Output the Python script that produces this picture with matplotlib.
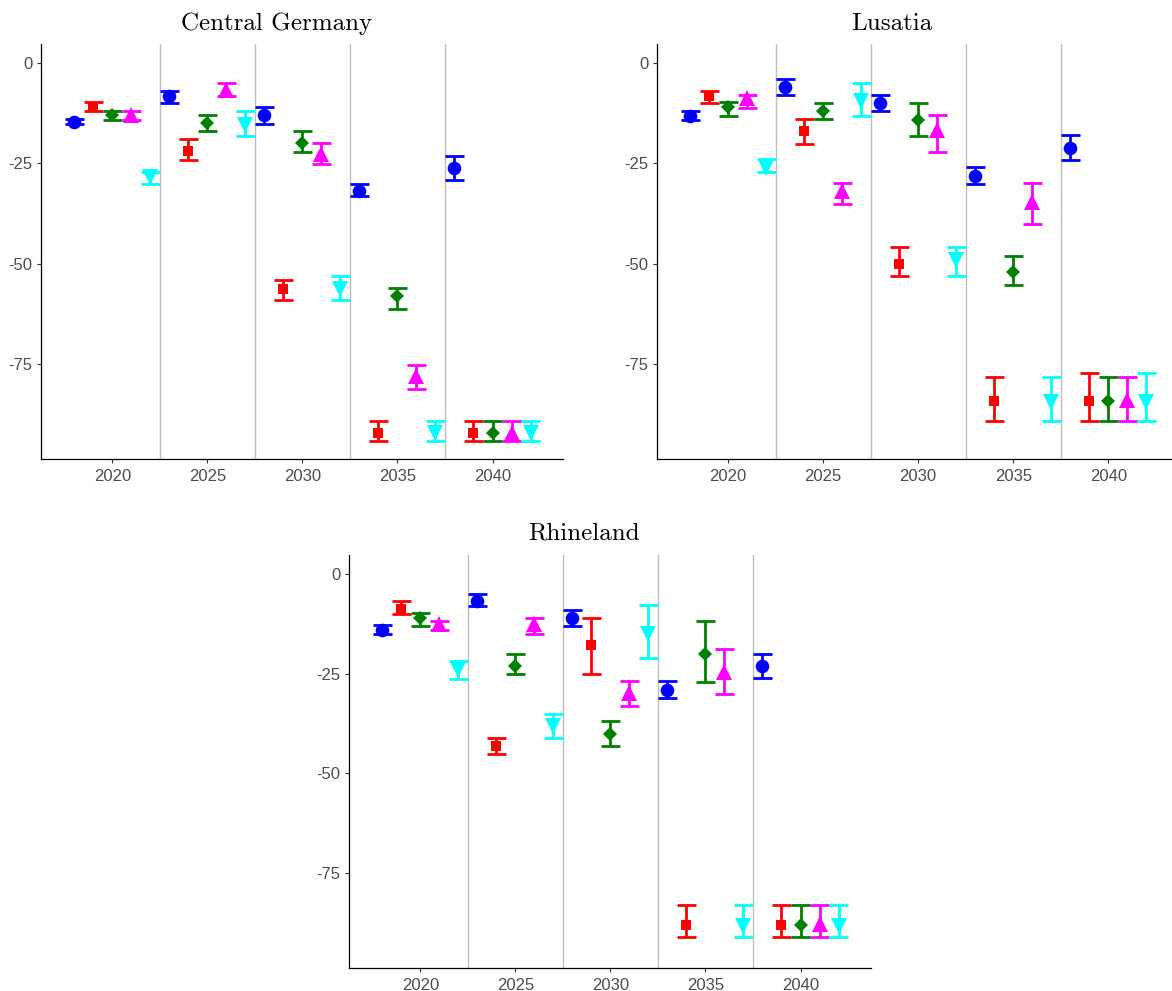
import matplotlib
matplotlib.use("Agg")
import matplotlib.pyplot as plt

# Projection years: five scenarios plotted side by side around each milestone year
milestones = [2020, 2025, 2030, 2035, 2040]
offsets = [-2, -1, 0, 1, 2]
series_colors = ["#0000FF", "#FF0000", "#008000", "#FF00FF", "#00FFFF"]
series_markers = ["o", "s", "D", "^", "v"]
series_sizes = [9.8, 7.6, 7.0, 11.0, 11.0]

# Values in plotting order (2018 ... 2042): point estimate, upper and lower bound
cg_mean = [-14.8, -11.1, -13.1, -12.9, -28.5, -8.2, -21.9, -15.0, -6.7, -15.4,
           -13.1, -56.25, -20.0, -22.75, -56.25, -31.9, -92.25, -58.2, -77.9, -92.1,
           -26.1, -92.25, -92.25, -92.1, -92.1]
cg_hi = [-14.0, -9.8, -11.9, -11.9, -27.1, -6.9, -19.0, -13.0, -5.0, -12.1,
         -11.0, -54.0, -16.9, -20.0, -53.1, -30.2, -89.2, -56.1, -75.2, -89.2,
         -23.1, -89.2, -89.2, -89.2, -89.2]
cg_lo = [-15.2, -12.1, -14.2, -14.2, -30.2, -10.0, -24.2, -17.1, -8.2, -18.2,
         -15.2, -59.2, -22.1, -25.2, -59.2, -33.2, -94.2, -61.25, -81.25, -94.2,
         -29.2, -94.2, -94.2, -94.2, -94.2]

lu_mean = [-13.2, -8.2, -11.1, -8.75, -26.1, -6.1, -16.9, -12.1, -31.9, -9.6,
           -10.0, -50.2, -14.2, -16.7, -49.2, -28.1, -84.2, -52.1, -34.75, -84.6,
           -21.1, -84.2, -84.2, -84.0, -84.6]
lu_hi = [-11.9, -6.9, -9.8, -7.9, -23.9, -3.9, -14.0, -10.0, -30.0, -5.0,
         -7.9, -46.0, -10.0, -13.0, -46.0, -26.0, -78.2, -48.1, -30.0, -78.2,
         -18.0, -77.2, -78.2, -78.2, -77.2]
lu_lo = [-14.2, -10.0, -13.2, -11.25, -27.25, -8.1, -20.2, -14.0, -35.2, -13.2,
         -12.1, -53.2, -18.1, -22.1, -53.2, -30.2, -89.2, -55.25, -40.2, -89.2,
         -24.2, -89.2, -89.2, -89.2, -89.2]

rh_mean = [-14.0, -8.75, -11.1, -12.5, -24.2, -6.9, -43.1, -23.1, -12.7, -38.1,
           -11.0, -17.9, -40.0, -29.75, -15.0, -29.0, -87.9, -20.0, -24.6, -88.3,
           -23.1, -87.9, -87.9, -87.7, -88.3]
rh_hi = [-12.9, -6.9, -9.8, -11.8, -21.9, -5.0, -41.0, -20.0, -11.0, -35.0,
         -9.0, -11.0, -36.9, -26.9, -7.9, -26.9, -82.9, -11.9, -18.9, -82.9,
         -20.0, -82.9, -82.9, -82.9, -82.9]
rh_lo = [-15.0, -10.0, -13.1, -14.2, -26.25, -8.1, -45.0, -25.2, -15.2, -41.1,
         -13.1, -25.0, -43.1, -33.1, -21.0, -31.0, -91.0, -27.1, -30.0, -91.0,
         -26.0, -91.0, -91.0, -91.0, -91.0]

region_titles = ["Central Germany", "Lusatia", "Rhineland"]
y_ticks = [0, -25, -50, -75]
y_tick_labels = ["0", "-25", "-50", "-75"]
x_ticks = [2020, 2025, 2030, 2035, 2040]

W, H = 1172, 991
fig = plt.figure(figsize=(W / 100, H / 100), dpi=100)
fig.patch.set_facecolor("white")

# panel boxes in pixels: left, top, width, height
panel_px = [(41, 44, 522, 415), (656.7, 44, 522, 415), (349, 555, 522, 413)]
title_px = [(277, 30), (892, 30), (584, 539)]
data = [(cg_mean, cg_hi, cg_lo), (lu_mean, lu_hi, lu_lo), (rh_mean, rh_hi, rh_lo)]

tick_font = dict(family=["Liberation Sans", "DejaVu Sans"], size=12, color="#4D4D4D")

for (l, t, w, h), (tx, ty), title, (mean, hi, lo) in zip(panel_px, title_px, region_titles, data):
    ax = fig.add_axes([l / W, 1 - (t + h) / H, w / W, h / H])
    ax.set_xlim(2016.24, 2043.71)
    ax.set_ylim(-98.7, 4.7)

    for b in [2022.5, 2027.5, 2032.5, 2037.5]:
        ax.axvline(b, color="#BEBEBE", lw=1.0, zorder=1)

    k = 0
    for m in milestones:
        for s, off in enumerate(offsets):
            x = m + off
            c = series_colors[s]
            ax.vlines(x, lo[k], hi[k], color=c, lw=2.0, zorder=2)
            ax.hlines([lo[k], hi[k]], x - 0.5, x + 0.5, color=c, lw=2.0,
                      zorder=2, capstyle="butt")
            ax.plot([x], [mean[k]], marker=series_markers[s], color=c,
                    markersize=series_sizes[s], markeredgewidth=0,
                    linestyle="none", zorder=3)
            k += 1

    for side in ["top", "right"]:
        ax.spines[side].set_visible(False)
    for side in ["left", "bottom"]:
        ax.spines[side].set_color("black")
        ax.spines[side].set_linewidth(0.9)

    ax.set_xticks(x_ticks)
    ax.set_xticklabels([str(v) for v in x_ticks], fontdict=tick_font)
    ax.set_yticks(y_ticks)
    ax.set_yticklabels(y_tick_labels, fontdict=tick_font)
    ax.tick_params(length=3, width=0.8, color="#333333", pad=3)
    ax.tick_params(axis="x", pad=4)

    fig.text(tx / W, 1 - ty / H, title, ha="center", va="baseline",
             family="cmr10", fontsize=18, color="black")

fig.savefig("out.png", dpi=100, facecolor="white")
